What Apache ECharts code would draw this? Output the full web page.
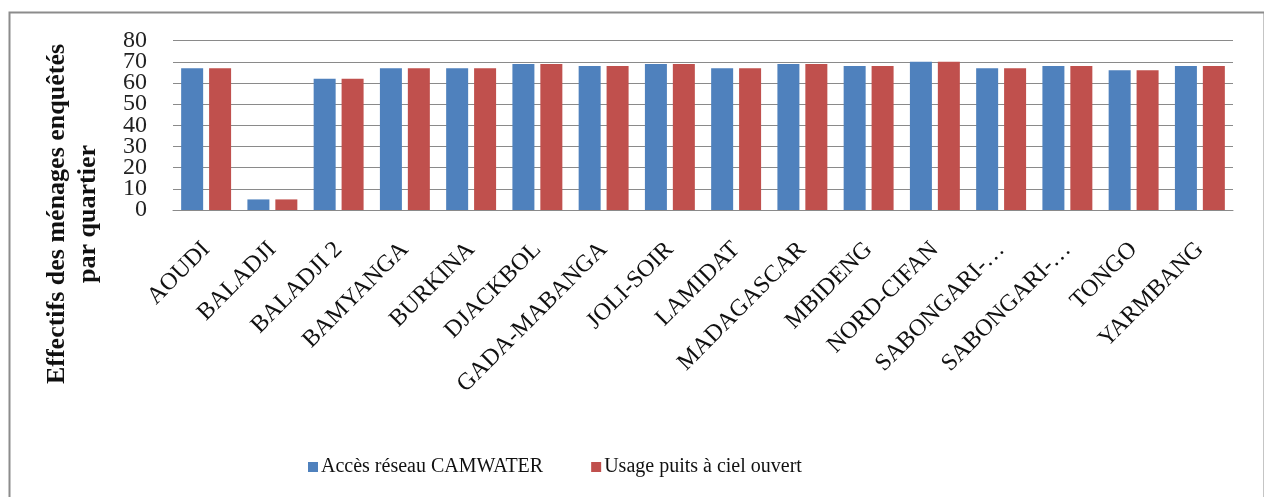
<!DOCTYPE html>
<html>
<head>
<meta charset="utf-8">
<script src="https://cdn.jsdelivr.net/npm/echarts@6/dist/echarts.min.js"></script>
<style>
html,body{margin:0;padding:0;background:#fff;}
#c{width:1264px;height:497px;}
</style>
</head>
<body>
<div id="c"></div>
<script>
const categories = ['AOUDI','BALADJI','BALADJI 2','BAMYANGA','BURKINA','DJACKBOL','GADA-MABANGA','JOLI-SOIR','LAMIDAT','MADAGASCAR','MBIDENG','NORD-CIFAN','SABONGARI-…','SABONGARI-…','TONGO','YARMBANG'];
const camwater = [67,5,62,67,67,69,68,69,67,69,68,70,67,68,66,68];
const puits    = [67,5,62,67,67,69,68,69,67,69,68,70,67,68,66,68];
const seriesNames = ['Accès réseau CAMWATER','Usage puits à ciel ouvert'];
const yTitle = 'Effectifs des ménages enquêtés\npar quartier';
const yMin = 0, yMax = 80, yStep = 10;

const serif = '"Liberation Serif", "DejaVu Serif", serif';
const yLabelBase = {margin:26, fontFamily:serif, fontSize:24, color:'#222', showMinLabel:true, showMaxLabel:true};
const chart = echarts.init(document.getElementById('c'), null, {renderer:'canvas'});
chart.setOption({
  backgroundColor:'#fff',
  animation:false,
  grid:{left:173,right:31,top:40.7,bottom:287,containLabel:false},
  legend:{
    left:303, top:452,
    icon:'rect', itemWidth:10, itemHeight:10, itemGap:48,
    textStyle:{fontFamily:serif,fontSize:20,color:'#111',padding:[0,0,0,-2]},
    data:seriesNames
  },
  xAxis:{
    type:'category', data:categories,
    axisLine:{lineStyle:{color:'#8a8a8a',width:1}},
    axisTick:{show:false},
    axisLabel:{rotate:45, margin:36, interval:0, fontFamily:serif, fontSize:24, color:'#111'}
  },
  yAxis:[
    {
      type:'value', min:yMin, max:yMax, interval:yStep, position:'left',
      axisLine:{show:false}, axisTick:{show:false},
      splitLine:{lineStyle:{color:'#8a8a8a',width:1}},
      axisLabel:Object.assign({}, yLabelBase, {formatter:v => (v/yStep)%2===0 ? String(v) : ''})
    },
    {
      type:'value', min:yMin, max:yMax, interval:yStep, position:'left', offset:0,
      axisLine:{show:false}, axisTick:{show:false}, splitLine:{show:false},
      axisLabel:Object.assign({}, yLabelBase, {formatter:v => (v/yStep)%2===1 ? String(v) : ''})
    }
  ],
  series:[
    {name:seriesNames[0], type:'bar', data:camwater, barWidth:22, barGap:'27%', itemStyle:{color:'#4F81BD'}},
    {name:seriesNames[1], type:'bar', data:puits, barWidth:22, barGap:'27%', itemStyle:{color:'#C0504D'}}
  ],
  graphic:[
    {type:'rect', left:7, top:10, shape:{width:1255, height:495}, style:{fill:null, stroke:'#8c8c8c', lineWidth:2}, z:-1},
    {type:'text', x:73, y:214, rotation:Math.PI/2,
      style:{text:yTitle, fontFamily:serif, fontWeight:'bold', fontSize:26, lineHeight:31, fill:'#111', align:'center', verticalAlign:'middle'}}
  ]
});
</script>
</body>
</html>
